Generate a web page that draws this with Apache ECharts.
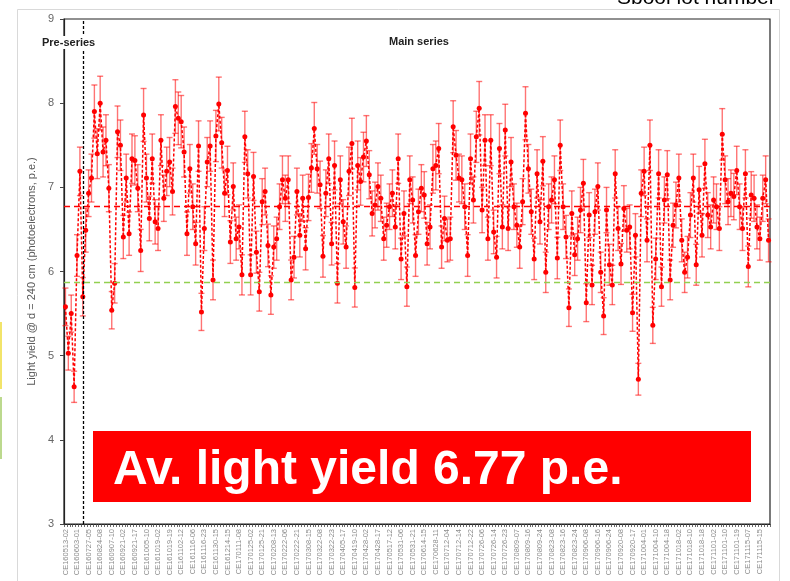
<!DOCTYPE html>
<html>
<head>
<meta charset="utf-8">
<script src="https://cdn.jsdelivr.net/npm/echarts@6/dist/echarts.min.js"></script>
<style>
html,body{margin:0;padding:0;background:#fff;}
#chart{width:790px;height:581px;}
</style>
</head>
<body>
<div id="chart"></div>
<script>
// Light yield per lot (p.e.)
const lightYield = [
  5.58, 5.03, 5.50, 4.63, 6.19, 7.19, 5.70, 6.49, 6.93, 7.11,
  7.90, 7.40, 8.00, 7.42, 7.56, 6.99, 5.54, 5.86, 7.66, 7.50,
  6.41, 7.11, 6.45, 7.34, 7.32, 6.99, 6.25, 7.86, 7.11, 6.63,
  7.34, 6.59, 6.51, 7.56, 6.87, 7.19, 7.30, 6.95, 7.96, 7.82,
  7.78, 7.42, 6.45, 7.22, 6.77, 6.33, 7.49, 5.52, 6.51, 7.30,
  7.49, 5.90, 7.61, 7.99, 7.53, 6.93, 7.20, 6.35, 7.01, 6.39,
  6.53, 5.96, 7.60, 7.16, 5.96, 7.13, 6.23, 5.76, 6.83, 6.95,
  6.31, 5.72, 6.29, 6.39, 6.77, 7.09, 6.87, 7.09, 5.90, 6.17,
  6.95,
  6.43, 6.87, 6.27, 6.88, 7.23, 7.70, 7.22, 7.03, 6.18, 6.93,
  7.34, 6.33, 7.26, 5.86, 7.09, 6.59, 6.29, 7.19, 7.52, 5.81,
  7.26, 7.07, 7.36, 7.55, 7.15, 6.69, 6.79, 7.01, 6.87, 6.39,
  6.55, 6.77, 6.93, 6.53, 7.34, 6.15, 6.69, 5.82, 7.09, 6.85,
  6.19,
  6.71, 6.99, 6.91, 6.33, 6.53, 7.22, 7.26, 7.46, 6.29, 6.63,
  6.37, 6.39, 7.72, 7.38, 7.11, 7.09, 6.77, 6.19, 7.34, 6.85,
  7.60, 7.94, 6.73, 7.56, 6.39, 7.56, 6.47, 6.17, 7.46, 6.53,
  7.68, 6.51, 7.30, 6.77, 6.55, 6.29, 6.83, 7.88, 7.22, 6.71,
  6.15,
  7.16, 6.59, 7.31, 5.99, 6.77, 6.85, 7.09, 6.16, 7.50, 6.77,
  6.41, 5.57, 6.69, 6.20, 6.39, 6.73, 7.05, 5.63, 6.67, 5.84,
  6.71, 7.01, 5.99, 5.47, 6.73, 6.08, 5.84, 7.16, 6.51, 6.09,
  6.75, 6.49, 6.53, 5.51, 6.43, 4.72, 6.93, 7.19, 6.37, 7.50,
  5.36,
  6.15, 7.16, 5.82, 6.85, 7.15, 5.90, 6.55, 6.79, 7.11, 6.37,
  5.99, 6.17, 6.67, 7.11, 6.08, 6.97, 6.43, 7.28, 6.67, 6.53,
  6.85, 6.77, 6.51, 7.63, 7.09, 6.83, 6.93, 6.89, 7.20, 6.77,
  6.51, 7.16, 6.06, 6.91, 6.87, 6.53, 6.39, 6.87, 7.09, 6.37
];

// relative statistical uncertainty of each point
const relError = 0.04;

// Lot labels shown on the x axis (one every 4 lots)
const lotLabels = [
  'CE160513-02','CE160603-01','CE160727-05','CE160824-08','CE160907-10','CE160921-02',
  'CE160921-17','CE161005-10','CE161019-02','CE161019-19','CE161102-12','CE161116-06',
  'CE161116-23','CE161130-15','CE161214-15','CE170111-08','CE170125-02','CE170125-21',
  'CE170208-13','CE170222-06','CE170222-21','CE170308-15','CE170322-08','CE170322-23',
  'CE170405-17','CE170419-10','CE170428-02','CE170428-17','CE170517-12','CE170531-06',
  'CE170531-21','CE170614-15','CE170628-11','CE170712-04','CE170712-14','CE170712-22',
  'CE170726-06','CE170726-14','CE170726-23','CE170809-07','CE170809-16','CE170809-24',
  'CE170823-08','CE170823-16','CE170823-24','CE170906-08','CE170906-16','CE170906-24',
  'CE170920-08','CE170920-17','CE171004-01','CE171004-10','CE171004-18','CE171018-02',
  'CE171018-10','CE171018-18','CE171101-02','CE171101-10','CE171101-19','CE171115-07',
  'CE171115-15'
];
const labelEvery = 4;

const yTicks = [3, 4, 5, 6, 7, 8, 9];
const averageYield = 6.77;
const thresholdYield = 5.87;
const preSeriesEndIndex = 6;

const categories = lightYield.map((_, i) => String(i));
const errData = lightYield.map((v, i) => [i, v, v * relError]);

const chart = echarts.init(document.getElementById('chart'), null, {renderer: 'canvas'});

const option = {
  animation: false,
  backgroundColor: '#fff',
  grid: {
    left: 64, right: 20, top: 19, bottom: 57,
    show: true, borderColor: '#222', borderWidth: 1.2, backgroundColor: 'transparent'
  },
  xAxis: {
    type: 'category',
    data: categories,
    boundaryGap: true,
    axisLine: {lineStyle: {color: '#222', width: 1.2}},
    axisTick: {show: true, interval: 0, length: 3, lineStyle: {color: '#444', width: 0.8}},
    axisLabel: {
      interval: labelEvery - 1,
      rotate: 90,
      fontSize: 7.5,
      color: '#8c8c8c',
      fontFamily: 'Liberation Sans, Arial, sans-serif',
      margin: 5,
      formatter: (val, idx) => lotLabels[Math.round(idx / labelEvery)] || ''
    },
    splitLine: {show: false}
  },
  yAxis: {
    type: 'value',
    min: yTicks[0], max: yTicks[yTicks.length - 1], interval: 1,
    name: 'Light yield @ d = 240 cm (photoelectrons, p.e.)',
    nameLocation: 'middle',
    nameGap: 27,
    nameTextStyle: {fontSize: 11, color: '#595959', fontFamily: 'Liberation Sans, Arial, sans-serif'},
    axisLine: {show: true, lineStyle: {color: '#222', width: 1.2}},
    axisTick: {show: true, length: 4, lineStyle: {color: '#444'}},
    axisLabel: {fontSize: 11, color: '#666', margin: 10, fontFamily: 'Liberation Sans, Arial, sans-serif'},
    splitLine: {show: false}
  },
  series: [
    {
      type: 'custom',
      name: 'err',
      data: errData,
      z: 2,
      renderItem: function (params, api) {
        const x = api.value(0), v = api.value(1), e = api.value(2);
        const hi = api.coord([x, v + e]);
        const lo = api.coord([x, v - e]);
        const h = 3;
        const st = {stroke: 'rgba(255,0,0,0.55)', lineWidth: 1.4};
        return {
          type: 'group',
          children: [
            {type: 'line', shape: {x1: hi[0], y1: hi[1], x2: lo[0], y2: lo[1]}, style: st},
            {type: 'line', shape: {x1: hi[0] - h, y1: hi[1], x2: hi[0] + h, y2: hi[1]}, style: st},
            {type: 'line', shape: {x1: lo[0] - h, y1: lo[1], x2: lo[0] + h, y2: lo[1]}, style: st}
          ]
        };
      }
    },
    {
      type: 'line',
      name: 'Light yield',
      data: lightYield,
      z: 3,
      symbol: 'circle',
      symbolSize: 5,
      showSymbol: true,
      showAllSymbol: true,
      itemStyle: {color: '#ff0000'},
      lineStyle: {color: '#ff0000', width: 1.5, type: [3, 2]},
      markLine: {
        silent: true,
        symbol: 'none',
        label: {show: false},
        data: [
          {yAxis: averageYield, lineStyle: {color: '#ff0000', width: 1.3, type: [6, 4]}},
          {yAxis: thresholdYield, lineStyle: {color: '#92d050', width: 1.3, type: [6, 4]}},
          {xAxis: String(preSeriesEndIndex), lineStyle: {color: '#000', width: 1.3, type: [3, 2]}}
        ]
      }
    }
  ],
  graphic: [
    {type: 'rect', left: 15, top: 7, shape: {width: 762, height: 600}, style: {fill: 'none', stroke: '#d9d9d9', lineWidth: 1}, z: -10, silent: true},
    {type: 'rect', left: 0, top: 322, shape: {width: 2, height: 67}, style: {fill: '#f2e46a'}, silent: true},
    {type: 'rect', left: 0, top: 397, shape: {width: 2, height: 62}, style: {fill: '#bcd98e'}, silent: true},
    {type: 'text', left: 617, top: -12, z: 50, style: {text: 'Sbool lot number', fontSize: 21, fill: '#000', fontFamily: 'Liberation Sans, Arial, sans-serif'}},
    {type: 'text', left: 42, top: 36, z: 50, style: {text: 'Pre-series', fontSize: 11, fontWeight: 'bold', fill: '#222', backgroundColor: '#fff', padding: [1, 0], fontFamily: 'Liberation Sans, Arial, sans-serif'}},
    {type: 'text', left: 389, top: 36, z: 50, style: {text: 'Main series', fontSize: 11, fontWeight: 'bold', fill: '#222', fontFamily: 'Liberation Sans, Arial, sans-serif'}},
    {type: 'rect', left: 93, top: 431, z: 60, shape: {width: 658, height: 71}, style: {fill: '#ff0000'}},
    {type: 'text', left: 113, top: 447, z: 61, style: {text: 'Av. light yield 6.77 p.e.', fontSize: 48, fontWeight: 'bold', fill: '#fff', fontFamily: 'Liberation Sans, Arial, sans-serif'}}
  ]
};

chart.setOption(option);
</script>
</body>
</html>
